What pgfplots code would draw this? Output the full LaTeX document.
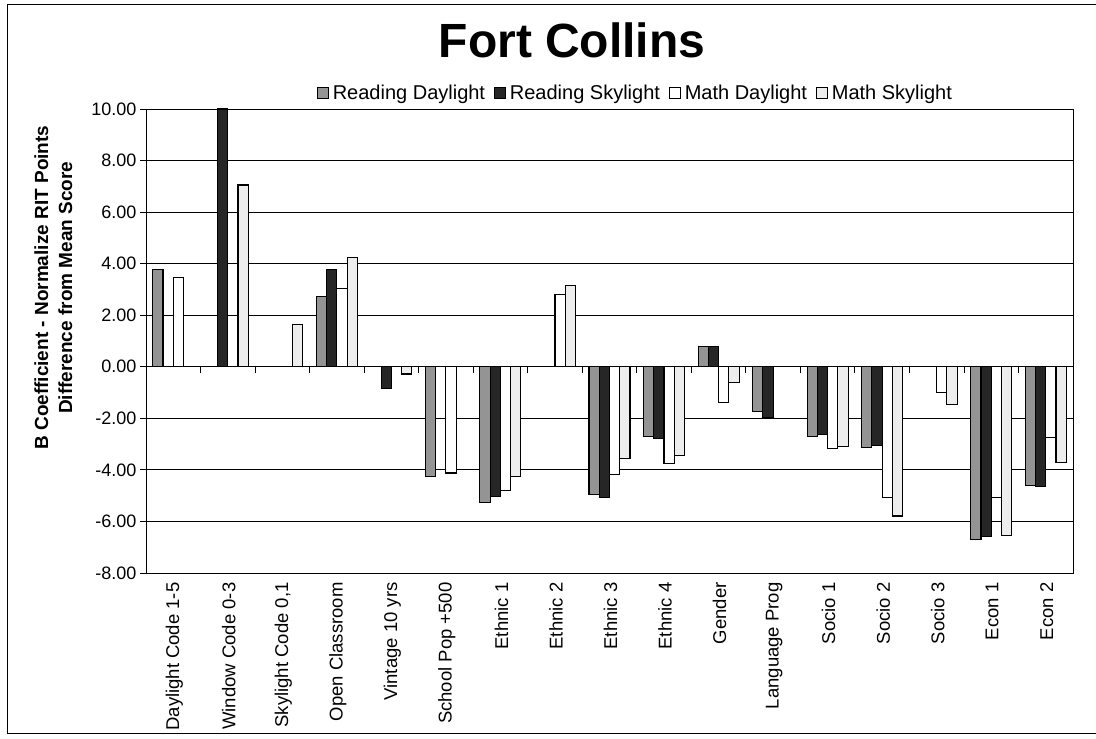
\documentclass[border=0pt]{standalone}
\usepackage{fontspec}
\setmainfont{Liberation Sans}
\usepackage{pgfplots}
\usepackage{pgfplotstable}
\pgfplotsset{compat=1.18}

\pgfplotstableread{
x RD RS MD MS
0 3.78 0 3.47 0
1 0 10.0 0 7.05
2 0 0 0 1.63
3 2.72 3.78 3.02 4.23
4 0 -0.84 0 -0.28
5 -4.27 0 -4.12 0
6 -5.27 -5.03 -4.80 -4.27
7 0 0 2.82 3.15
8 -4.97 -5.07 -4.18 -3.57
9 -2.71 -2.78 -3.74 -3.44
10 0.78 0.78 -1.40 -0.62
11 -1.74 -1.96 0 0
12 -2.69 -2.62 -3.18 -3.08
13 -3.14 -3.06 -5.08 -5.79
14 0 0 -1.00 -1.45
15 -6.70 -6.60 -5.08 -6.55
16 -4.60 -4.65 -2.75 -3.72
}\data

\definecolor{rdfill}{gray}{0.58}
\definecolor{rsfill}{gray}{0.15}
\definecolor{mdfill}{gray}{1.0}
\definecolor{msfill}{gray}{0.93}

\begin{document}
\begin{tikzpicture}
\useasboundingbox (0pt,0pt) rectangle (1096pt,739pt);
\draw[line width=1pt] (1096pt,734pt) -- (7pt,734pt) -- (7pt,5pt) -- (1096pt,5pt);
\node[anchor=base, font=\bfseries\fontsize{48}{52}\selectfont] at (572pt,681pt) {Fort Collins};

\begin{axis}[
  at={(146pt,166pt)}, anchor=south west,
  scale only axis, width=927pt, height=464pt,
  xmin=-0.5, xmax=16.5, ymin=-8, ymax=10,
  ybar=0pt, bar width=10.25pt,
  axis line style={black, line width=0.8pt},
  xtick={0,...,16},
  xticklabels={Daylight Code 1-5, Window Code 0-3, {Skylight Code 0,1}, Open Classroom, Vintage 10 yrs, School Pop +500, Ethnic 1, Ethnic 2, Ethnic 3, Ethnic 4, Gender, Language Prog, Socio 1, Socio 2, Socio 3, Econ 1, Econ 2},
  x tick label style={rotate=90, anchor=east, yshift=-1pt, font=\fontsize{18.5}{20}\selectfont},
  major x tick style={draw=none},
  ytick={-8,-6,...,10},
  ytick align=outside, ytick pos=left,
  major tick length=6pt,
  y tick style={black, line width=0.8pt},
  /pgf/number format/assume math mode=true,
  y tick label style={/pgf/number format/fixed, /pgf/number format/fixed zerofill, /pgf/number format/precision=2, font=\fontsize{18}{20}\selectfont},
  ymajorgrids, major grid style={black, line width=0.9pt},
  ylabel={B Coefficient - Normalize RIT Points\\Difference from Mean Score},
  ylabel style={at={(axis description cs:-0.100,0.615)}, anchor=center, align=center, font=\bfseries\fontsize{19}{24}\selectfont},
  legend columns=4,
  legend style={at={(axis description cs:0.528,1.034)}, anchor=center, draw=none, fill=none,
    font=\fontsize{20}{22}\selectfont, inner sep=0pt,
    /tikz/every even column/.append style={column sep=7pt},
    /tikz/every odd column/.append style={column sep=2pt}},
  legend image code/.code={\draw[#1, line width=0.8pt] (0pt,-5.5pt) rectangle (11pt,5.5pt);},
  every axis plot/.append style={draw=black, line width=1.1pt},
]
\addplot[fill=rdfill] table[x=x, y=RD] {\data};
\addplot[fill=rsfill] table[x=x, y=RS] {\data};
\addplot[fill=mdfill] table[x=x, y=MD] {\data};
\addplot[fill=msfill] table[x=x, y=MS] {\data};
\legend{Reading Daylight, Reading Skylight, Math Daylight, Math Skylight}
\end{axis}

\begin{axis}[
  at={(146pt,166pt)}, anchor=south west,
  scale only axis, width=927pt, height=464pt,
  xmin=-0.5, xmax=16.5, ymin=-8, ymax=10,
  axis x line*=middle, axis y line=none,
  axis line style={black, line width=0.9pt},
  xtick={0.5,1.5,...,15.5}, xticklabels={},
  xtick align=outside, major tick length=6pt,
  x tick style={black, line width=0.8pt},
]
\end{axis}
\end{tikzpicture}
\end{document}
